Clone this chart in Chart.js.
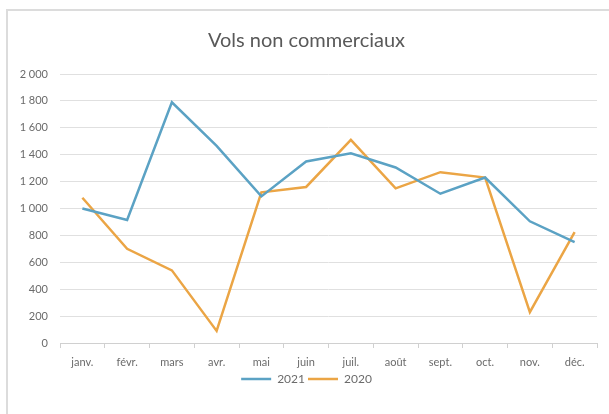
<!DOCTYPE html>
<html>
<head>
<meta charset="utf-8">
<script src="https://cdn.jsdelivr.net/npm/chart.js@4"></script>
<style>
    html, body { margin: 0; padding: 0; background: #fff; }
    #wrap { position: relative; width: 609px; height: 414px; }
    #frame { position: absolute; left: 6px; top: 9px; right: 0; bottom: 0; border-top: 2px solid #dcdcdc; border-left: 2px solid #dcdcdc; pointer-events: none; }
    canvas { position: absolute; left: 0; top: 0; }
</style>
</head>
<body>
<div id="wrap">
    <canvas id="chart" width="609" height="414"></canvas>
    <div id="frame"></div>
</div>
<script>
var MONTHS = ['janv.', 'févr.', 'mars', 'avr.', 'mai', 'juin', 'juil.', 'août', 'sept.', 'oct.', 'nov.', 'déc.'];
var VOLS_2021 = [1000, 915, 1790, 1465, 1090, 1350, 1410, 1305, 1110, 1230, 905, 750];
var VOLS_2020 = [1080, 700, 540, 90, 1120, 1160, 1510, 1150, 1270, 1230, 230, 825];
var Y_MAX = 2000;
var Y_STEP = 200;

var fmtFr = function (n) {
    return String(n).replace(/\B(?=(\d{3})+(?!\d))/g, ' ');
};

var FONT = "Lato, 'Open Sans', sans-serif";
var GREY = '#6b6b6b';

new Chart(document.getElementById('chart'), {
    type: 'line',
    data: {
        labels: MONTHS,
        datasets: [
            { label: '2021', data: VOLS_2021, borderColor: '#5ba2c4', backgroundColor: '#5ba2c4', borderWidth: 2.5, pointRadius: 0, tension: 0, fill: false },
            { label: '2020', data: VOLS_2020, borderColor: '#eba545', backgroundColor: '#eba545', borderWidth: 2.5, pointRadius: 0, tension: 0, fill: false }
        ]
    },
    options: {
        responsive: false,
        animation: false,
        layout: { padding: { left: 16, right: 12, top: 0, bottom: 19 } },
        plugins: {
            title: {
                display: true,
                text: 'Vols non commerciaux',
                color: '#595959',
                font: { family: FONT, size: 20, weight: 'normal' },
                padding: { top: 29, bottom: 21 }
            },
            legend: {
                position: 'bottom',
                labels: {
                    usePointStyle: true,
                    pointStyle: 'line',
                    pointStyleWidth: 30,
                    boxHeight: 12,
                    padding: 3,
                    color: GREY,
                    font: { family: FONT, size: 12 }
                }
            },
            tooltip: { enabled: false }
        },
        scales: {
            x: {
                offset: true,
                afterFit: function (s) { s.height = 27; },
                grid: { offset: true, drawOnChartArea: false, drawTicks: true, tickLength: 5, color: '#d0d0d0' },
                border: { display: true, color: '#d0d0d0' },
                ticks: { color: GREY, padding: 8, font: { family: FONT, size: 11 }, maxRotation: 0, autoSkip: false }
            },
            y: {
                min: 0,
                max: Y_MAX,
                afterFit: function (s) { s.width = 44; },
                grid: { color: '#e0e0e0', drawTicks: false },
                border: { display: false },
                ticks: {
                    stepSize: Y_STEP,
                    padding: 12,
                    color: GREY,
                    font: { family: FONT, size: 11 },
                    callback: function (v) { return fmtFr(v); }
                }
            }
        }
    }
});
</script>
</body>
</html>
